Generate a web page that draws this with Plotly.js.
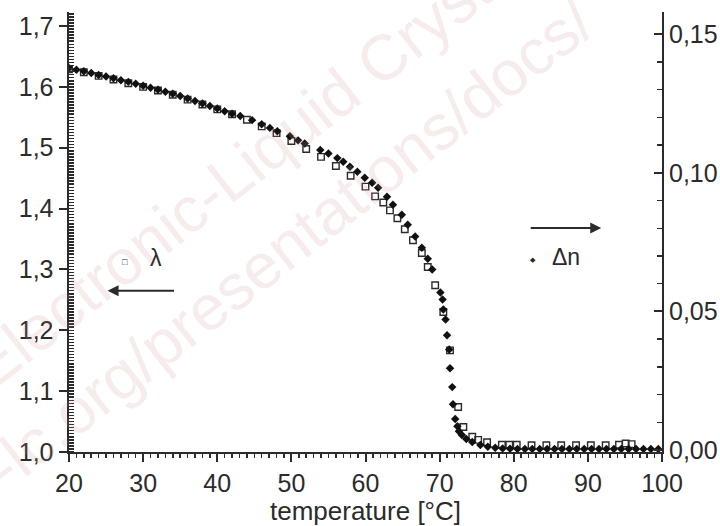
<!DOCTYPE html>
<html>
<head>
<meta charset="utf-8">
<script src="https://cdn.plot.ly/plotly-3.0.1.min.js"></script>
<style>html,body{margin:0;padding:0;background:#fff;}#chart{width:720px;height:526px;}</style>
</head>
<body>
<div id="chart"></div>
<script>
// λ (open squares, left axis)
const tempLambda = [20,22,24,26,28,30,32,34,36,38,40,42,44,46,48,50,52,54,56,58,60,61.3,62.4,63.3,64.3,65.3,66.4,67.6,68.4,69.4,70.5,71.4,72.5,73.2,74.4,75.2,76.4,78.4,79.4,80.4,82.4,84.4,86.4,88.4,90.4,92.4,94.2,95.1,95.9];
const lambdaValues = [1.629,1.624,1.618,1.612,1.606,1.600,1.594,1.587,1.579,1.571,1.563,1.555,1.546,1.535,1.524,1.511,1.498,1.485,1.470,1.454,1.436,1.420,1.410,1.397,1.384,1.366,1.348,1.327,1.304,1.274,1.230,1.167,1.074,1.041,1.025,1.020,1.016,1.012,1.012,1.012,1.011,1.011,1.011,1.011,1.011,1.011,1.012,1.014,1.013];

// Δn (filled diamonds, right axis)
const tempDn = [20,21,22,23,24,25,26,27,28,29,30,31,32,33,34,35,36,37,38,39,40,41,42,43.1,44.7,46,47.1,48.1,49.8,50.9,51.8,53.9,55,56.2,57,57.9,58.9,59.9,60.9,61.7,62.9,63.7,64.9,65.7,66.7,67.6,68.4,69,70.1,70.4,70.5,70.8,71,71.3,71.4,71.7,71.8,72.1,72.4,72.6,73,73.6,74.4,75.5,76.5,77.5,78.5,79.5,80.5,81.5,82.5,83.5,84.5,85.5,86.5,87.5,88.5,89.5,90.5,91.5,92.5,93.5,94.5,95.5,96.5,97.5,98.5,99.5];
const dnValues = [0.1378,0.1372,0.1366,0.1360,0.1353,0.1347,0.1341,0.1334,0.1328,0.1321,0.1314,0.1307,0.1300,0.1292,0.1285,0.1277,0.1268,0.1259,0.1250,0.1241,0.1232,0.1222,0.1213,0.1205,0.1190,0.1175,0.1162,0.1150,0.1132,0.1117,0.1106,0.1082,0.1070,0.1053,0.1040,0.1022,0.1004,0.0982,0.0964,0.0946,0.0914,0.0885,0.0849,0.0813,0.0770,0.0730,0.0690,0.0651,0.0568,0.0543,0.0507,0.0471,0.0414,0.0363,0.0295,0.0227,0.0165,0.0112,0.0086,0.0068,0.0054,0.0040,0.0029,0.0018,0.0012,0.0008,0.0006,0.0005,0.0004,0.0004,0.0004,0.0004,0.0004,0.0004,0.0004,0.0004,0.0004,0.0004,0.0004,0.0004,0.0004,0.0004,0.0004,0.0004,0.0004,0.0004,0.0004,0.0004];

const xTitle = 'temperature [°C]';
const fontFam = '"Liberation Sans", Arial, sans-serif';
const ink = '#2b2b2b';
const wm = 'rgba(200,140,140,0.17)';

const traces = [
  {x: tempLambda, y: lambdaValues, name: 'λ', type: 'scatter', mode: 'markers', yaxis: 'y',
   marker: {symbol: 'square-open', size: 6.5, color: ink, line: {width: 1.4, color: ink}}},
  {x: tempDn, y: dnValues, name: 'Δn', type: 'scatter', mode: 'markers', yaxis: 'y2',
   marker: {symbol: 'diamond', size: 6.5, color: '#111'}}
];

const layout = {
  width: 720, height: 526,
  margin: {l: 69, r: 58, t: 12, b: 74, pad: 0},
  paper_bgcolor: '#fff', plot_bgcolor: 'rgba(0,0,0,0)',
  showlegend: false,
  separators: ',.',
  font: {family: fontFam, color: ink, size: 25},
  xaxis: {
    range: [20, 100], tick0: 20, dtick: 10, ticks: 'outside', ticklen: 8, tickwidth: 2, tickcolor: ink,
    minor: {dtick: 1, ticks: 'outside', ticklen: 4, tickwidth: 1.5, tickcolor: ink, showgrid: false},
    showline: true, linewidth: 2, linecolor: ink, showgrid: false, zeroline: false,
    tickfont: {size: 25, family: fontFam, color: ink},
    title: {text: xTitle, font: {size: 26, family: fontFam, color: ink}, standoff: 2}
  },
  yaxis: {
    range: [1.0, 1.723], tick0: 1.0, dtick: 0.1, tickformat: '.1f',
    ticks: 'outside', ticklen: 8, tickwidth: 2, tickcolor: ink,
    minor: {dtick: 0.005, ticks: 'inside', ticklen: 5, tickwidth: 1.5, tickcolor: ink, showgrid: false},
    showline: true, linewidth: 2.5, linecolor: ink, showgrid: false, zeroline: false,
    tickfont: {size: 25, family: fontFam, color: ink}
  },
  yaxis2: {
    range: [-0.0007, 0.158], tick0: 0, dtick: 0.05, tickformat: '.2f',
    overlaying: 'y', side: 'right', anchor: 'x',
    ticks: 'inside', ticklen: 8, tickwidth: 2, tickcolor: ink,
    minor: {dtick: 0.01, ticks: 'inside', ticklen: 5, tickwidth: 1.5, tickcolor: ink, showgrid: false},
    showline: true, linewidth: 2, linecolor: ink, showgrid: false, zeroline: false,
    tickfont: {size: 25, family: fontFam, color: ink}
  },
  annotations: [
    // watermark
    {xref: 'paper', yref: 'paper', x: 0.305, y: 0.659, xanchor: 'center', yanchor: 'middle',
     text: 'Electronic-Liquid Crystal', showarrow: false,
     textangle: -38, font: {size: 64, family: fontFam, color: wm}},
    {xref: 'paper', yref: 'paper', x: 0.347, y: 0.448, xanchor: 'center', yanchor: 'middle',
     text: 'e-lc.org/presentations/docs/', showarrow: false,
     textangle: -38, font: {size: 64, family: fontFam, color: wm}},
    // λ label and arrow
    {xref: 'x', yref: 'y', x: 27.6, y: 1.313, text: '□', showarrow: false, font: {size: 9, color: ink}},
    {xref: 'x', yref: 'y', x: 31.7, y: 1.318, text: 'λ', showarrow: false, font: {size: 23, color: ink}},
    {xref: 'x', yref: 'y', x: 25.2, y: 1.265, text: '', showarrow: true, ax: 68, ay: 0,
     arrowhead: 2, arrowsize: 1.1, arrowwidth: 2, arrowcolor: ink},
    // Δn label and arrow
    {xref: 'x', yref: 'y', x: 82.6, y: 1.316, text: '◆', showarrow: false, font: {size: 7, color: ink}},
    {xref: 'x', yref: 'y', x: 87.0, y: 1.320, text: 'Δn', showarrow: false, font: {size: 23, color: ink}},
    {xref: 'x', yref: 'y', x: 91.8, y: 1.368, text: '', showarrow: true, ax: -72, ay: 0,
     arrowhead: 2, arrowsize: 1.1, arrowwidth: 2, arrowcolor: ink}
  ]
};

Plotly.newPlot('chart', traces, layout, {displayModeBar: false, staticPlot: true});
</script>
</body>
</html>
